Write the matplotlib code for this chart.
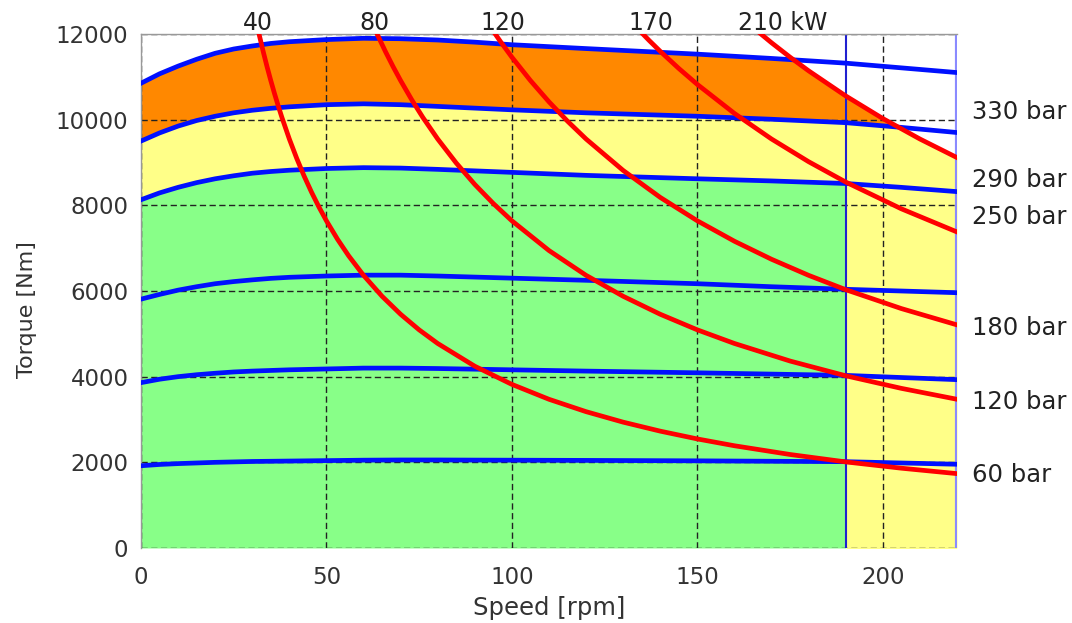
import matplotlib
matplotlib.use('Agg')
import matplotlib.pyplot as plt
import numpy as np
from matplotlib.patches import Polygon
from matplotlib.transforms import blended_transform_factory

plt.rcParams['font.family'] = ['DejaVu Sans']

# Pressure lines (blue), torque [Nm] vs speed [rpm]
speed = np.array([0, 5, 10, 15, 20, 25, 30, 35, 40, 50, 60, 70, 80, 90, 100, 120, 150, 170, 190, 205, 220])
torque_60bar = np.array([1920, 1950, 1970, 1985, 2000, 2010, 2020, 2025, 2030, 2040, 2050, 2055, 2055, 2052, 2050, 2045, 2035, 2025, 2015, 1985, 1955])
torque_120bar = np.array([3860, 3940, 4000, 4045, 4080, 4110, 4130, 4145, 4160, 4180, 4200, 4200, 4190, 4175, 4160, 4130, 4090, 4060, 4030, 3980, 3930])
torque_180bar = np.array([5810, 5920, 6020, 6100, 6170, 6220, 6260, 6295, 6320, 6350, 6370, 6370, 6350, 6325, 6300, 6250, 6170, 6100, 6040, 6000, 5960])
torque_250bar = np.array([8130, 8290, 8420, 8530, 8620, 8690, 8750, 8790, 8820, 8860, 8880, 8870, 8840, 8805, 8770, 8700, 8620, 8570, 8510, 8420, 8320])
torque_290bar = np.array([9500, 9690, 9850, 9980, 10080, 10160, 10220, 10265, 10300, 10350, 10370, 10350, 10310, 10270, 10230, 10160, 10080, 10010, 9930, 9820, 9700])
torque_330bar = np.array([10850, 11070, 11250, 11410, 11550, 11650, 11720, 11780, 11820, 11870, 11900, 11890, 11860, 11810, 11750, 11660, 11530, 11430, 11320, 11210, 11100])

pressure_labels = ['60 bar', '120 bar', '180 bar', '250 bar', '290 bar', '330 bar']
pressure_label_torque = [1704, 3416, 5136, 7735, 8592, 10186]

# Constant power lines (red)
speed_40kw = [30, 31, 32, 33, 34, 35, 36, 37, 38, 40, 42, 44, 46, 48, 50, 53, 56, 60, 65, 70, 75, 80, 90, 100, 110, 120, 130, 140, 150, 160, 175, 190, 205, 220]
torque_40kw = [12732, 12322, 11937, 11575, 11234, 10913, 10610, 10324, 10052, 9549, 9095, 8681, 8304, 7958, 7639, 7207, 6821, 6366, 5877, 5457, 5093, 4775, 4244, 3820, 3472, 3183, 2938, 2728, 2546, 2387, 2183, 2010, 1863, 1736]
speed_80kw = [62, 64, 66, 68, 70, 73, 76, 80, 85, 90, 95, 100, 110, 120, 130, 140, 150, 160, 175, 190, 205, 220]
torque_80kw = [12322, 11937, 11575, 11234, 10913, 10465, 10052, 9549, 8988, 8488, 8042, 7639, 6945, 6366, 5877, 5457, 5093, 4775, 4365, 4021, 3727, 3472]
speed_120kw = [94, 97, 100, 105, 110, 115, 120, 130, 140, 150, 160, 170, 180, 190, 205, 220]
torque_120kw = [12191, 11814, 11459, 10914, 10417, 9965, 9549, 8815, 8185, 7639, 7162, 6741, 6366, 6031, 5590, 5209]
speed_170kw = [133, 137, 140, 145, 150, 160, 170, 180, 190, 205, 220]
torque_170kw = [12206, 11850, 11596, 11196, 10823, 10146, 9549, 9019, 8544, 7919, 7379]
speed_210kw = [165, 170, 175, 180, 190, 200, 210, 220]
torque_210kw = [12154, 11796, 11459, 11141, 10555, 10027, 9549, 9115]

power_labels = ['40', '80', '120', '170', '210 kW']
power_label_speed = [31.4, 63, 97.5, 137.4, 161]

fig = plt.figure(figsize=(10.72, 6.23), dpi=100)
ax = fig.add_axes([0.1315, 0.1204, 0.7612, 0.8250])

# region below the 210 kW line, used to clip the fills
clip_verts = [(-10, -1000), (-10, 13000), (speed_210kw[0], 13000)]
clip_verts += list(zip(speed_210kw, torque_210kw))
clip_verts += [(230, torque_210kw[-1]), (230, -1000)]
clip = Polygon(clip_verts, closed=True, transform=ax.transData)

green = ax.fill_between(speed, 0, torque_250bar, where=speed <= 190, color='#88ff88', lw=0)
yellow1 = ax.fill_between(speed, torque_250bar, torque_290bar, where=speed <= 190, color='#ffff88', lw=0)
yellow2 = ax.fill_between(speed, 0, torque_290bar, where=speed >= 190, color='#ffff88', lw=0)
orange = ax.fill_between(speed, torque_290bar, torque_330bar, color='#ff8800', lw=0)
for c in [yellow1, yellow2, orange]:
    c.set_clip_path(clip)

ax.axvline(190, color='#2020d0', lw=1.5, zorder=1.8)
ax.axvline(220, color='#8a8aff', lw=3, zorder=1.8)

for t in [torque_60bar, torque_120bar, torque_180bar, torque_250bar, torque_290bar, torque_330bar]:
    ax.plot(speed, t, color='#0010ff', lw=3.4, zorder=3, solid_joinstyle='round')

for s, t in [(speed_40kw, torque_40kw), (speed_80kw, torque_80kw), (speed_120kw, torque_120kw),
             (speed_170kw, torque_170kw), (speed_210kw, torque_210kw)]:
    ax.plot(s, t, color='#ff0000', lw=3.4, zorder=4, solid_joinstyle='round')

ax.set_xlim(0, 220)
ax.set_ylim(0, 12000)
ax.set_xticks([0, 50, 100, 150, 200])
ax.set_yticks(np.arange(0, 12001, 2000))
ax.set_axisbelow('line')
ax.grid(True, color='#222222', ls=(0, (4.5, 2.5)), lw=1.0)
ax.tick_params(length=0, labelsize=16.5, labelcolor='#333333')
ax.tick_params(axis='x', pad=13)
ax.tick_params(axis='y', pad=9)

for side in ['bottom', 'right']:
    ax.spines[side].set_visible(False)
for side in ['top', 'left']:
    ax.spines[side].set_color('#999999')
    ax.spines[side].set_linewidth(1.0)

ax.set_xlabel('Speed [rpm]', fontsize=17.5, color='#333333', labelpad=5)
ax.set_ylabel('Torque [Nm]', fontsize=16, color='#333333')
ax.yaxis.set_label_coords(-0.128, 0.463)

top = blended_transform_factory(ax.transData, ax.transAxes)
for lab, s in zip(power_labels, power_label_speed):
    ha = 'left' if 'kW' in lab else 'center'
    ax.text(s, 1.008, lab, transform=top, ha=ha, va='baseline', fontsize=17,
            color='#222222', clip_on=False)

for lab, t in zip(pressure_labels, pressure_label_torque):
    ax.text(224.1, t, lab, ha='left', va='center', fontsize=17.5, color='#222222', clip_on=False)

fig.savefig('out.png', dpi=100)
